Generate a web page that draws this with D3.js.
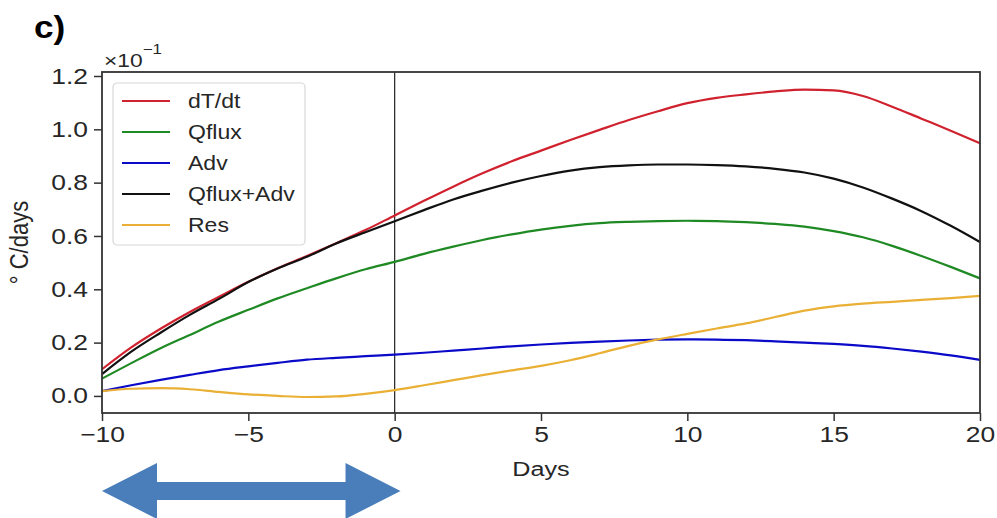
<!DOCTYPE html>
<html>
<head>
<meta charset="utf-8">
<script src="https://cdn.jsdelivr.net/npm/d3@7"></script>
<style>
  body { margin: 0; background: #fff; }
  text { font-family: "Liberation Sans", Arial, sans-serif; fill: #262626; }
</style>
</head>
<body>
<svg id="chart" width="997" height="518"></svg>
<script>
// days -10 .. 20
const days = d3.range(-10, 21);
const dTdt    = [0.100, 0.182, 0.252, 0.315, 0.372, 0.428, 0.479, 0.525, 0.573, 0.622, 0.677, 0.732, 0.785, 0.835, 0.880, 0.920, 0.960, 0.998, 1.035, 1.068, 1.098, 1.118, 1.131, 1.142, 1.149, 1.146, 1.125, 1.085, 1.040, 0.995, 0.948];
const qflux   = [0.065, 0.123, 0.179, 0.229, 0.279, 0.323, 0.366, 0.404, 0.441, 0.475, 0.503, 0.533, 0.560, 0.585, 0.606, 0.624, 0.638, 0.648, 0.653, 0.656, 0.657, 0.656, 0.652, 0.645, 0.635, 0.618, 0.595, 0.563, 0.525, 0.484, 0.441];
const adv     = [0.018, 0.040, 0.060, 0.079, 0.097, 0.111, 0.124, 0.136, 0.143, 0.149, 0.155, 0.162, 0.170, 0.178, 0.186, 0.193, 0.199, 0.204, 0.208, 0.211, 0.212, 0.211, 0.209, 0.205, 0.200, 0.195, 0.188, 0.178, 0.166, 0.152, 0.135];
const qfluxAdv = [0.082, 0.166, 0.237, 0.304, 0.364, 0.427, 0.478, 0.522, 0.572, 0.614, 0.655, 0.697, 0.737, 0.770, 0.800, 0.825, 0.845, 0.858, 0.865, 0.868, 0.868, 0.866, 0.861, 0.852, 0.838, 0.815, 0.782, 0.740, 0.693, 0.638, 0.577];
const res     = [0.018, 0.027, 0.029, 0.025, 0.015, 0.006, 0.000, -0.004, -0.002, 0.008, 0.022, 0.040, 0.059, 0.078, 0.096, 0.113, 0.134, 0.160, 0.188, 0.212, 0.233, 0.253, 0.272, 0.296, 0.320, 0.336, 0.346, 0.353, 0.360, 0.367, 0.375];

const seriesNames = ["dT/dt", "Qflux", "Adv", "Qflux+Adv", "Res"];
const seriesVals = [dTdt, qflux, adv, qfluxAdv, res];
const seriesColors = ["#d0222e", "#1f8a24", "#0a0ac8", "#111111", "#e9b035"];

const xTicks = [-10, -5, 0, 5, 10, 15, 20];
const yTicks = [0.0, 0.2, 0.4, 0.6, 0.8, 1.0, 1.2];
const arrowDays = [-10, 0.2];

const margin = {left: 102, top: 72, right: 17, bottom: 105};
const W = 997, H = 518;
const width = W - margin.left - margin.right;
const height = H - margin.top - margin.bottom;
const sx = 1.2; // picture is stretched sideways

const svg = d3.select("#chart");
const g = svg.append("g").attr("transform", `translate(${margin.left},${margin.top})`);

const x = d3.scaleLinear().domain([-10, 20]).range([0, width]);
const y = d3.scaleLinear().domain([-0.064, 1.215]).range([height, 0]);

// axes
const xAxis = g.append("g")
  .attr("transform", `translate(0,${height})`)
  .call(d3.axisBottom(x).tickValues(xTicks).tickSize(8).tickPadding(5).tickFormat(d3.format("d")));
xAxis.selectAll("text").attr("font-size", 22).attr("transform", `scale(${sx},1)`);

const yAxis = g.append("g")
  .call(d3.axisLeft(y).tickValues(yTicks).tickSize(8).tickPadding(5).tickFormat(d3.format(".1f")));
yAxis.selectAll("text").attr("font-size", 22).attr("x", -14 / sx).attr("transform", `scale(${sx},1)`);

[xAxis, yAxis].forEach(a => {
  a.select(".domain").remove();
  a.selectAll("line").attr("stroke", "#333").attr("stroke-width", 1.5);
});

// zero day line
g.append("line")
  .attr("x1", x(0)).attr("x2", x(0))
  .attr("y1", 0).attr("y2", height)
  .attr("stroke", "#222").attr("stroke-width", 1.2);

// lines
const line = d3.line()
  .x((d, i) => x(days[i]))
  .y(d => y(d))
  .curve(d3.curveMonotoneX);

seriesVals.forEach((vals, k) => {
  g.append("path")
    .datum(vals)
    .attr("fill", "none")
    .attr("stroke", seriesColors[k])
    .attr("stroke-width", 2.2)
    .attr("d", line);
});

// frame
g.append("rect")
  .attr("width", width).attr("height", height)
  .attr("fill", "none").attr("stroke", "#333").attr("stroke-width", 1.8);

// legend
const lg = g.append("g").attr("transform", "translate(11,11)");
lg.append("rect")
  .attr("width", 192).attr("height", 162).attr("rx", 4)
  .attr("fill", "#fff").attr("fill-opacity", 0.8)
  .attr("stroke", "#d8d8d8").attr("stroke-width", 1.2);
seriesNames.forEach((name, k) => {
  const ry = 18 + k * 31;
  lg.append("line")
    .attr("x1", 9).attr("x2", 57).attr("y1", ry).attr("y2", ry)
    .attr("stroke", seriesColors[k]).attr("stroke-width", 2.2);
  lg.append("text")
    .attr("transform", `translate(75,${ry + 7}) scale(1.15,1)`)
    .attr("font-size", 20)
    .text(name);
});

// multiplier
const mult = svg.append("text").attr("transform", `translate(104,67) scale(${sx},1)`).attr("font-size", 19);
mult.append("tspan").text("×10");
mult.append("tspan").attr("dy", -13).attr("font-size", 14).text("−1");

// axis labels
svg.append("text")
  .attr("transform", `translate(${margin.left + width / 2},476) scale(${sx},1)`)
  .attr("text-anchor", "middle").attr("font-size", 21)
  .text("Days");

svg.append("text")
  .attr("transform", `translate(28,${margin.top + height / 2}) rotate(-90) scale(1,${sx})`)
  .attr("text-anchor", "middle").attr("font-size", 22)
  .text("° C/days");

// panel label
svg.append("text")
  .attr("transform", `translate(34,38) scale(1.1,1)`)
  .attr("font-size", 32).attr("font-weight", "bold").style("fill", "#000")
  .text("c)");

// double arrow under the plot
const ax0 = margin.left + x(arrowDays[0]), ax1 = margin.left + x(arrowDays[1]);
const cy = 491, head = 55, hh = 28, sh = 9;
const pts = [
  [ax0, cy], [ax0 + head, cy - hh], [ax0 + head, cy - sh], [ax1 - head, cy - sh],
  [ax1 - head, cy - hh], [ax1, cy], [ax1 - head, cy + hh], [ax1 - head, cy + sh],
  [ax0 + head, cy + sh], [ax0 + head, cy + hh]
];
svg.append("polygon")
  .attr("points", pts.map(p => p.join(",")).join(" "))
  .attr("fill", "#4a7ebb");
</script>
</body>
</html>
